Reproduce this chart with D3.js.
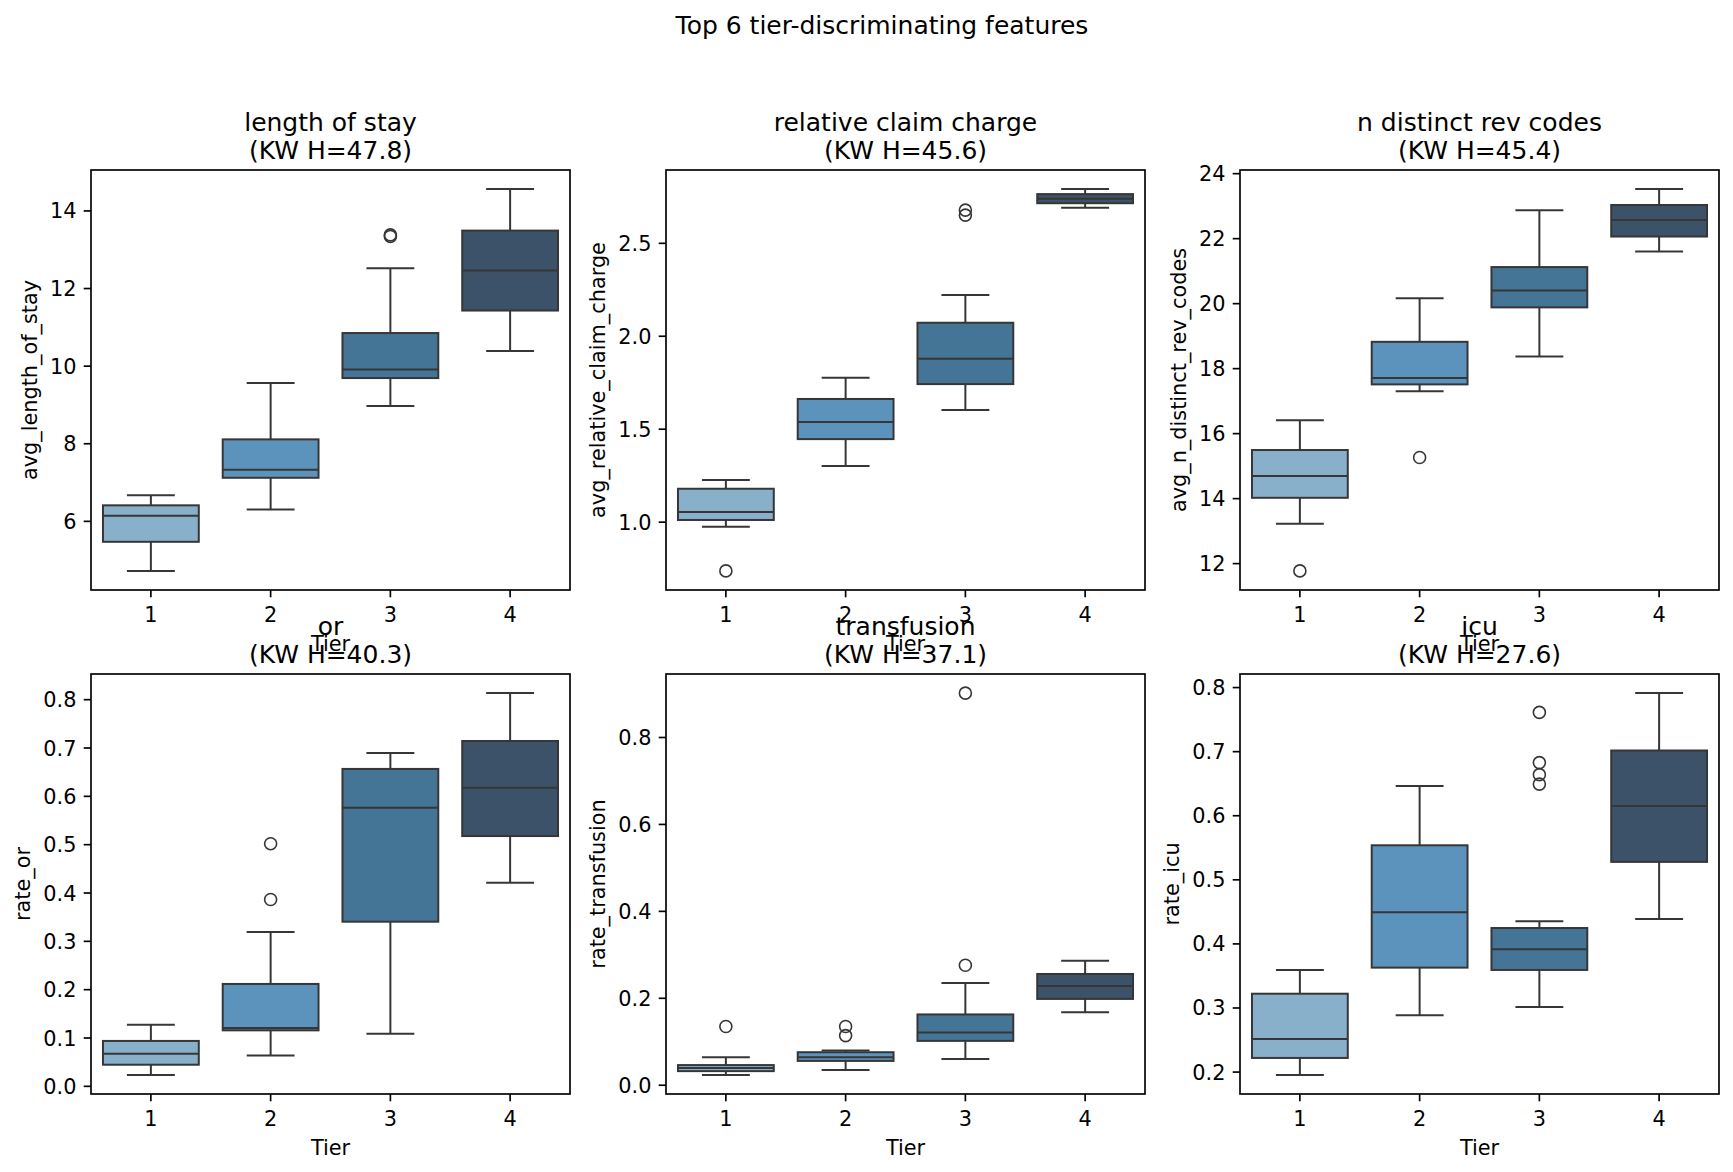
<!DOCTYPE html>
<html><head><meta charset="utf-8">
<script src="https://cdn.jsdelivr.net/npm/d3@7"></script>
<style>body{margin:0;background:#fff}svg{display:block}text{font-family:"DejaVu Sans",sans-serif;fill:#000}</style>
</head><body><svg id="chart" width="1733" height="1172"></svg>
<script>
// ---------------- data ----------------
const tiers = ["1","2","3","4"];
const tierColors = ["#88b0cb","#5c93bc","#447597","#3c5268"];
const suptitle = "Top 6 tier-discriminating features";
const featureTitles = ["length of stay","relative claim charge","n distinct rev codes","or","transfusion","icu"];
const kwH = ["47.8","45.6","45.4","40.3","37.1","27.6"];
const yLabels = ["avg_length_of_stay","avg_relative_claim_charge","avg_n_distinct_rev_codes","rate_or","rate_transfusion","rate_icu"];
const xLabel = "Tier";

// box stats per tier: [lower whisker, Q1, median, Q3, upper whisker]
const statsLengthOfStay = [[4.71,5.46,6.13,6.40,6.66],[6.29,7.11,7.32,8.10,9.55],[8.96,9.68,9.90,10.84,12.51],[10.38,11.42,12.45,13.48,14.55]];
const fliersLengthOfStay = [[],[],[13.37,13.33],[]];
const ticksLengthOfStay = [6,8,10,12,14];
const tickLabelsLengthOfStay = ["6","8","10","12","14"];

const statsRelClaim = [[0.973,1.009,1.052,1.177,1.224],[1.300,1.444,1.536,1.660,1.774],[1.600,1.740,1.876,2.070,2.219],[2.688,2.713,2.737,2.762,2.789]];
const fliersRelClaim = [[0.735],[],[2.676,2.649],[]];
const ticksRelClaim = [1.0,1.5,2.0,2.5];
const tickLabelsRelClaim = ["1.0","1.5","2.0","2.5"];

const statsRevCodes = [[13.21,14.01,14.68,15.48,16.40],[17.29,17.50,17.70,18.81,20.15],[18.36,19.87,20.39,21.11,22.86],[21.59,22.05,22.56,23.02,23.51]];
const fliersRevCodes = [[11.76],[15.25],[],[]];
const ticksRevCodes = [12,14,16,18,20,22,24];
const tickLabelsRevCodes = ["12","14","16","18","20","22","24"];

const statsOr = [[0.0226,0.0437,0.0664,0.0929,0.1265],[0.0625,0.1148,0.1194,0.2108,0.3185],[0.1077,0.3396,0.5753,0.6557,0.6885],[0.420,0.5168,0.6167,0.7135,0.8126]];
const fliersOr = [[],[0.501,0.3856],[],[]];
const ticksOr = [0.0,0.1,0.2,0.3,0.4,0.5,0.6,0.7,0.8];
const tickLabelsOr = ["0.0","0.1","0.2","0.3","0.4","0.5","0.6","0.7","0.8"];

const statsTransfusion = [[0.0226,0.0313,0.0383,0.0452,0.0635],[0.0339,0.0548,0.0635,0.0748,0.079],[0.0591,0.1009,0.120,0.1617,0.234],[0.167,0.1974,0.227,0.2548,0.285]];
const fliersTransfusion = [[0.134],[0.134,0.113],[0.901,0.2748],[]];
const ticksTransfusion = [0.0,0.2,0.4,0.6,0.8];
const tickLabelsTransfusion = ["0.0","0.2","0.4","0.6","0.8"];

const statsIcu = [[0.1948,0.2213,0.2508,0.3215,0.3586],[0.2879,0.3622,0.4488,0.5531,0.6456],[0.3009,0.3586,0.391,0.424,0.4347],[0.4382,0.5272,0.6144,0.701,0.7906]];
const fliersIcu = [[],[],[0.7605,0.6821,0.6633,0.6486],[]];
const ticksIcu = [0.2,0.3,0.4,0.5,0.6,0.7,0.8];
const tickLabelsIcu = ["0.2","0.3","0.4","0.5","0.6","0.7","0.8"];

const panels = [
  {stats:statsLengthOfStay, fliers:fliersLengthOfStay, ticks:ticksLengthOfStay, labels:tickLabelsLengthOfStay},
  {stats:statsRelClaim, fliers:fliersRelClaim, ticks:ticksRelClaim, labels:tickLabelsRelClaim},
  {stats:statsRevCodes, fliers:fliersRevCodes, ticks:ticksRevCodes, labels:tickLabelsRevCodes},
  {stats:statsOr, fliers:fliersOr, ticks:ticksOr, labels:tickLabelsOr},
  {stats:statsTransfusion, fliers:fliersTransfusion, ticks:ticksTransfusion, labels:tickLabelsTransfusion},
  {stats:statsIcu, fliers:fliersIcu, ticks:ticksIcu, labels:tickLabelsIcu}
];

// ---------------- layout ----------------
const colLefts = [91, 666, 1240];
const rowTops = [170, 674];
const axW = 479, axH = 420;
const tickFont = 20.83, titleFont = 25;
const tickLen = 7.3, tickPad = 7.3, labelPad = 8.3;
const lineColor = "#363636";
const spineW = 1.67, boxLW = 2;

const svg = d3.select("#chart");
svg.append("rect").attr("width",1733).attr("height",1172).attr("fill","#fff");

svg.append("text").attr("x",882).attr("y",34).attr("text-anchor","middle")
  .style("font-size",titleFont+"px").text(suptitle);

panels.forEach((p, i) => {
  const col = i % 3, row = Math.floor(i / 3);
  const left = colLefts[col], top = rowTops[row];
  const g = svg.append("g").attr("transform",`translate(${left},${top})`);

  const x = d3.scaleBand().domain(tiers).range([0, axW]).paddingInner(0).paddingOuter(0);
  const allVals = p.stats.flat().concat(p.fliers.flat());
  const [mn, mx] = d3.extent(allVals);
  const pad = (mx - mn) * 0.05;
  const y = d3.scaleLinear().domain([mn - pad, mx + pad]).range([axH, 0]);

  const bw = x.bandwidth() * 0.8;
  const capW = bw * 0.5;

  tiers.forEach((t, k) => {
    const [lo, q1, med, q3, hi] = p.stats[k];
    const cx = x(t) + x.bandwidth() / 2;
    const bg = g.append("g");
    // whiskers
    bg.append("line").attr("x1",cx).attr("x2",cx).attr("y1",y(q1)).attr("y2",y(lo))
      .attr("stroke",lineColor).attr("stroke-width",boxLW);
    bg.append("line").attr("x1",cx).attr("x2",cx).attr("y1",y(q3)).attr("y2",y(hi))
      .attr("stroke",lineColor).attr("stroke-width",boxLW);
    // caps
    [lo, hi].forEach(v => bg.append("line").attr("x1",cx-capW/2).attr("x2",cx+capW/2)
      .attr("y1",y(v)).attr("y2",y(v)).attr("stroke",lineColor).attr("stroke-width",boxLW));
    // box
    bg.append("rect").attr("x",cx-bw/2).attr("width",bw).attr("y",y(q3)).attr("height",y(q1)-y(q3))
      .attr("fill",tierColors[k]).attr("stroke",lineColor).attr("stroke-width",boxLW);
    // median
    bg.append("line").attr("x1",cx-bw/2).attr("x2",cx+bw/2).attr("y1",y(med)).attr("y2",y(med))
      .attr("stroke",lineColor).attr("stroke-width",boxLW);
    // fliers
    p.fliers[k].forEach(v => bg.append("circle").attr("cx",cx).attr("cy",y(v)).attr("r",6)
      .attr("fill","none").attr("stroke",lineColor).attr("stroke-width",1.6));
  });

  // axes
  const xAxis = d3.axisBottom(x).tickSize(tickLen).tickPadding(tickPad);
  const xg = g.append("g").attr("transform",`translate(0,${axH})`).call(xAxis);
  xg.select(".domain").remove();
  xg.selectAll(".tick line").attr("stroke","#000").attr("stroke-width",spineW);
  xg.selectAll(".tick text").attr("y",32).attr("dy",null).style("font-size",tickFont+"px")
    .attr("fill","#000").style("font-family","DejaVu Sans");

  const yAxis = d3.axisLeft(y).tickValues(p.ticks).tickFormat((d, j) => p.labels[j])
    .tickSize(tickLen).tickPadding(tickPad);
  const yg = g.append("g").call(yAxis);
  yg.select(".domain").remove();
  yg.selectAll(".tick line").attr("stroke","#000").attr("stroke-width",spineW);
  yg.selectAll(".tick text").attr("dy","0.36em").style("font-size",tickFont+"px")
    .attr("fill","#000").style("font-family","DejaVu Sans");

  let maxW = 0;
  yg.selectAll(".tick text").each(function(){ maxW = Math.max(maxW, this.getComputedTextLength()); });

  // spines
  g.append("rect").attr("x",0).attr("y",0).attr("width",axW).attr("height",axH)
    .attr("fill","none").attr("stroke","#000").attr("stroke-width",spineW);

  // y label
  const ylx = -(tickLen + tickPad + maxW + labelPad + 0.236*tickFont);
  g.append("text").attr("transform",`translate(${ylx},${axH/2}) rotate(-90)`)
    .attr("text-anchor","middle").style("font-size",tickFont+"px").text(yLabels[i]);

  // x label
  g.append("text").attr("x",axW/2).attr("y",axH+61).attr("text-anchor","middle")
    .style("font-size",tickFont+"px").text(xLabel);

  // title
  const tt = g.append("text").attr("text-anchor","middle").style("font-size",titleFont+"px");
  tt.append("tspan").attr("x",axW/2).attr("y",-39.5).text(featureTitles[i]);
  tt.append("tspan").attr("x",axW/2).attr("y",-11.5).text(`(KW H=${kwH[i]})`);
});
</script></body></html>
